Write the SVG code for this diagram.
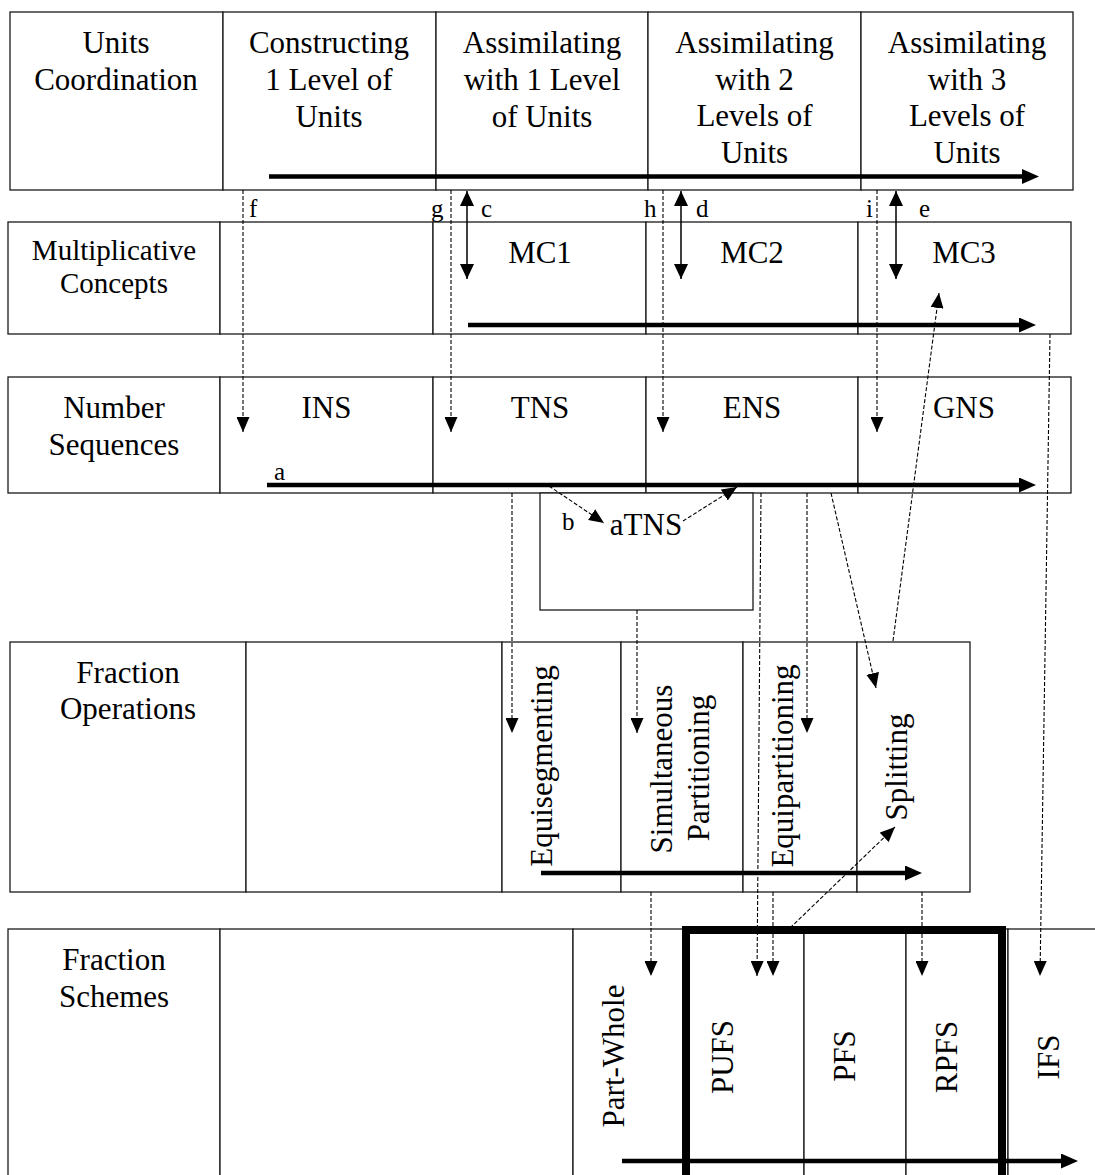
<svg xmlns="http://www.w3.org/2000/svg" width="1095" height="1175" viewBox="0 0 1095 1175">
  <style>
    .cell { fill: #fff; stroke: #1a1a1a; stroke-width: 1.3; }
    .frame { fill: none; stroke: #000; stroke-width: 8; }
    text { font-family: "Liberation Serif", "Times New Roman", serif; font-size: 31px; fill: #000; text-anchor: middle; }
    .small { font-size: 29px; }
    .tag { font-size: 25px; text-anchor: start; }
    .dash { fill: none; stroke: #000; stroke-width: 1.1; stroke-dasharray: 4 2; marker-end: url(#dh); }
    .thick { fill: none; stroke: #000; stroke-width: 4.5; marker-end: url(#bh); }
    .dbl { fill: none; stroke: #000; stroke-width: 1.5; marker-start: url(#sh); marker-end: url(#sh); }
  </style>
  <defs>
    <marker id="dh" markerUnits="userSpaceOnUse" markerWidth="15" markerHeight="13" refX="15" refY="6.5" orient="auto">
      <path d="M0,0 L15,6.5 L0,13 z" fill="#000" stroke="none"/>
    </marker>
    <marker id="sh" markerUnits="userSpaceOnUse" markerWidth="15" markerHeight="14" refX="15" refY="7" orient="auto-start-reverse">
      <path d="M0,0 L15,7 L0,14 z" fill="#000" stroke="none"/>
    </marker>
    <marker id="bh" markerUnits="userSpaceOnUse" markerWidth="17" markerHeight="15" refX="1" refY="7.5" orient="auto">
      <path d="M0,0 L17,7.5 L0,15 z" fill="#000" stroke="none"/>
    </marker>
  </defs>

  <rect x="0" y="0" width="1095" height="1175" fill="#fff"/>

  <!-- Row 1: units coordination -->
  <g id="units-coordination">
    <rect class="cell" x="10" y="12" width="213" height="178"/>
    <text x="116" y="53">Units</text>
    <text x="116" y="90">Coordination</text>
  </g>
  <g id="uc-constructing-1">
    <rect class="cell" x="223" y="12" width="213" height="178"/>
    <text x="329" y="53">Constructing</text>
    <text x="329" y="90">1 Level of</text>
    <text x="329" y="127">Units</text>
  </g>
  <g id="uc-assimilating-1">
    <rect class="cell" x="436" y="12" width="212" height="178"/>
    <text x="542" y="53">Assimilating</text>
    <text x="542" y="90">with 1 Level</text>
    <text x="542" y="127">of Units</text>
  </g>
  <g id="uc-assimilating-2">
    <rect class="cell" x="648" y="12" width="213" height="178"/>
    <text x="754.5" y="53">Assimilating</text>
    <text x="754.5" y="90">with 2</text>
    <text x="754.5" y="126">Levels of</text>
    <text x="754.5" y="163">Units</text>
  </g>
  <g id="uc-assimilating-3">
    <rect class="cell" x="861" y="12" width="212" height="178"/>
    <text x="967" y="53">Assimilating</text>
    <text x="967" y="90">with 3</text>
    <text x="967" y="126">Levels of</text>
    <text x="967" y="163">Units</text>
  </g>

  <!-- Row 2: multiplicative concepts -->
  <g id="multiplicative-concepts">
    <rect class="cell" x="8" y="222" width="212" height="112"/>
    <text class="small" x="114" y="260">Multiplicative</text>
    <text class="small" x="114" y="293">Concepts</text>
  </g>
  <g id="mc-empty">
    <rect class="cell" x="220" y="222" width="213" height="112"/>
  </g>
  <g id="mc1">
    <rect class="cell" x="433" y="222" width="213" height="112"/>
    <text x="540" y="263">MC1</text>
  </g>
  <g id="mc2">
    <rect class="cell" x="646" y="222" width="212" height="112"/>
    <text x="752" y="263">MC2</text>
  </g>
  <g id="mc3">
    <rect class="cell" x="858" y="222" width="213" height="112"/>
    <text x="964" y="263">MC3</text>
  </g>

  <!-- Row 3: number sequences -->
  <g id="number-sequences">
    <rect class="cell" x="8" y="377" width="212" height="116"/>
    <text x="114" y="418">Number</text>
    <text x="114" y="455">Sequences</text>
  </g>
  <g id="ins">
    <rect class="cell" x="220" y="377" width="213" height="116"/>
    <text x="326.5" y="418">INS</text>
  </g>
  <g id="tns">
    <rect class="cell" x="433" y="377" width="213" height="116"/>
    <text x="540" y="418">TNS</text>
  </g>
  <g id="ens">
    <rect class="cell" x="646" y="377" width="212" height="116"/>
    <text x="752" y="418">ENS</text>
  </g>
  <g id="gns">
    <rect class="cell" x="858" y="377" width="213" height="116"/>
    <text x="964" y="418">GNS</text>
  </g>
  <g id="atns">
    <rect class="cell" x="540" y="493" width="213" height="117"/>
    <text x="646" y="535">aTNS</text>
  </g>

  <!-- Row 4: fraction operations -->
  <g id="fraction-operations">
    <rect class="cell" x="10" y="642" width="236" height="250"/>
    <text x="128" y="683">Fraction</text>
    <text x="128" y="719">Operations</text>
  </g>
  <g id="fo-empty">
    <rect class="cell" x="246" y="642" width="256" height="250"/>
  </g>
  <g id="equisegmenting">
    <rect class="cell" x="502" y="642" width="119" height="250"/>
    <text transform="translate(552,766) rotate(-90)">Equisegmenting</text>
  </g>
  <g id="simultaneous-partitioning">
    <rect class="cell" x="621" y="642" width="122" height="250"/>
    <text transform="translate(672,769) rotate(-90)">Simultaneous</text>
    <text transform="translate(709,768) rotate(-90)">Partitioning</text>
  </g>
  <g id="equipartitioning">
    <rect class="cell" x="743" y="642" width="114" height="250"/>
    <text transform="translate(793,766) rotate(-90)">Equipartitioning</text>
  </g>
  <g id="splitting">
    <rect class="cell" x="857" y="642" width="113" height="250"/>
    <text transform="translate(907,767) rotate(-90)">Splitting</text>
  </g>

  <!-- Row 5: fraction schemes (runs past the right and bottom edges) -->
  <g id="fraction-schemes">
    <rect class="cell" x="8" y="929" width="212" height="260"/>
    <text x="114" y="970">Fraction</text>
    <text x="114" y="1007">Schemes</text>
  </g>
  <g id="fs-empty">
    <rect class="cell" x="220" y="929" width="353" height="260"/>
  </g>
  <g id="part-whole">
    <rect class="cell" x="573" y="929" width="113" height="260"/>
    <text transform="translate(624,1056) rotate(-90)">Part-Whole</text>
  </g>
  <g id="pufs">
    <rect class="cell" x="686" y="929" width="118" height="260"/>
    <text transform="translate(733,1057) rotate(-90)">PUFS</text>
  </g>
  <g id="pfs">
    <rect class="cell" x="804" y="929" width="102" height="260"/>
    <text transform="translate(855,1056) rotate(-90)">PFS</text>
  </g>
  <g id="rpfs">
    <rect class="cell" x="906" y="929" width="102" height="260"/>
    <text transform="translate(957,1057) rotate(-90)">RPFS</text>
  </g>
  <g id="ifs">
    <rect class="cell" x="1008" y="929" width="100" height="260"/>
    <text transform="translate(1059,1057) rotate(-90)">IFS</text>
  </g>

  <!-- Connectors -->
  <g id="connectors">
    <!-- developmental progressions along each row -->
    <line class="thick" x1="269" y1="176.5" x2="1023" y2="176.5"/>
    <line class="thick" x1="468" y1="325" x2="1020" y2="325"/>
    <line class="thick" x1="267" y1="485" x2="1020" y2="485"/>
    <line class="thick" x1="541" y1="873" x2="906" y2="873"/>
    <line class="thick" x1="622" y1="1161" x2="1062" y2="1161"/>

    <!-- two-way links between units coordination and multiplicative concepts -->
    <line class="dbl" x1="467" y1="191" x2="467" y2="279"/>
    <line class="dbl" x1="681" y1="191" x2="681" y2="279"/>
    <line class="dbl" x1="896" y1="191" x2="896" y2="279"/>

    <!-- units coordination to number sequences -->
    <line class="dash" x1="243" y1="190" x2="243" y2="432"/>
    <line class="dash" x1="451" y1="190" x2="451" y2="432"/>
    <line class="dash" x1="663" y1="190" x2="663" y2="432"/>
    <line class="dash" x1="877" y1="190" x2="877" y2="432"/>

    <!-- number sequences and aTNS -->
    <line class="dash" x1="549" y1="486" x2="604" y2="523"/>
    <line class="dash" x1="683" y1="521" x2="737" y2="487"/>

    <!-- number sequences to fraction operations and schemes -->
    <line class="dash" x1="512" y1="493" x2="512" y2="733"/>
    <line class="dash" x1="637" y1="610" x2="637" y2="733"/>
    <line class="dash" x1="761" y1="493" x2="757" y2="976"/>
    <line class="dash" x1="807" y1="493" x2="807" y2="733"/>
    <line class="dash" x1="831" y1="493" x2="876" y2="688"/>
    <line class="dash" x1="893" y1="641" x2="939" y2="293"/>
    <line class="dash" x1="1050" y1="334" x2="1040" y2="976"/>

    <!-- fraction operations to fraction schemes -->
    <line class="dash" x1="651" y1="892" x2="651" y2="976"/>
    <line class="dash" x1="773" y1="892" x2="773" y2="976"/>
    <line class="dash" x1="922" y1="892" x2="922" y2="976"/>
    <line class="dash" x1="790" y1="928" x2="895" y2="827"/>
  </g>

  <!-- bold outline around PUFS, PFS and RPFS -->
  <path class="frame" d="M686,1185 V930 H1002 V1185"/>

  <!-- link labels -->
  <g id="labels">
    <text class="tag" x="249" y="217">f</text>
    <text class="tag" x="431" y="217">g</text>
    <text class="tag" x="481" y="217">c</text>
    <text class="tag" x="644" y="217">h</text>
    <text class="tag" x="696" y="217">d</text>
    <text class="tag" x="866" y="217">i</text>
    <text class="tag" x="919" y="217">e</text>
    <text class="tag" x="274" y="480">a</text>
    <text class="tag" x="562" y="530">b</text>
  </g>
</svg>
